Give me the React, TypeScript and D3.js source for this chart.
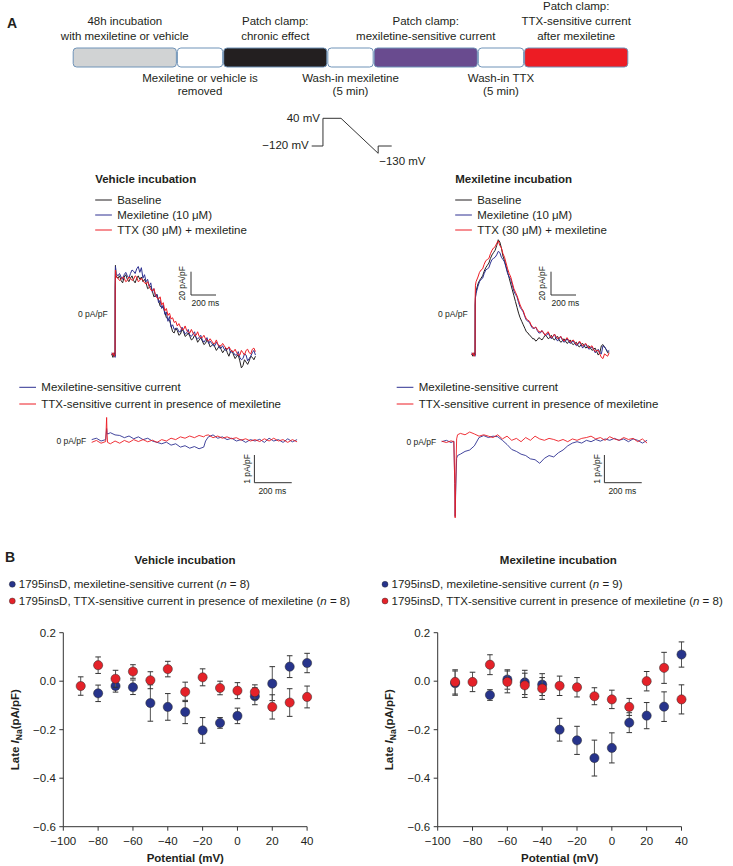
import React from 'react';
import * as d3 from 'd3';

const FONT = '"Liberation Sans", Arial, Helvetica, sans-serif';
const C_TEXT = '#231f20';
const C_BLACK = '#231f20';
const C_BLUE = '#2e3192';
const C_RED = '#ed1c24';
const C_DOT_BLUE = '#27348b';
const C_DOT_RED = '#e42229';

// ---------- Panel A: timeline ----------
const stageUnits = [2.25, 1, 2.25, 1, 2.25, 1, 2.25];
const stageFills = ['#d1d3d4', '#ffffff', '#231f20', '#ffffff', '#694b8f', '#ffffff', '#ed1c24'];
const stageTopLabels: (string[] | null)[] = [
  ['48h incubation', 'with mexiletine or vehicle'], null,
  ['Patch clamp:', 'chronic effect'], null,
  ['Patch clamp:', 'mexiletine-sensitive current'], null,
  ['Patch clamp:', 'TTX-sensitive current', 'after mexiletine'],
];
const stageBottomLabels: (string[] | null)[] = [
  null, ['Mexiletine or vehicle is', 'removed'], null,
  ['Wash-in mexiletine', '(5 min)'], null, ['Wash-in TTX', '(5 min)'], null,
];

// ---------- Voltage protocol ----------
const protocolT = [0, 100, 100, 260, 590, 590, 710];
const protocolV = [-120, -120, 40, 40, -130, -120, -120];

// ---------- Raw traces (pA/pF) ----------
// early samples (ms) around the step, then samples every 25 ms from 50 ms, plus the in-between samples (+12.5 ms)
const earlyTopT = [0, 10, 20, 27, 28, 30, 35];

const vehBaselineEarly = [-34, -37, -33, -36, 20, 42, 33];
const vehBaselineGrid = [31, 29, 32, 30, 31, 29, 31, 30, 28,
  27, 23, 20, 16, 12, 6, 2, -4, -10, -16,
  -14, -17, -15, -18, -19, -21, -20, -22, -23, -25, -24, -27, -28, -29, -30, -31, -33, -32, -35, -36, -40, -44, -41, -40, -37, -36];
const vehBaselineMid = [33, 27, 34, 28, 33, 27, 33, 32, 30, 22, 24, 15, 17, 7, 6, -3, -5, -15, -12, -18,
  -13, -19, -16, -22, -18, -24, -20, -26, -22, -28, -25, -31, -27, -33, -29, -36, -31, -38, -35, -46, -39, -43, -36, -39];

const vehMexEarly = [-33, -35, -34, -37, 25, 41, 35];
const vehMexGrid = [33, 32, 34, 33, 35, 37, 39, 36, 31,
  28, 24, 19, 15, 10, 5, 0, -6, -11, -13,
  -12, -15, -14, -16, -18, -17, -20, -20, -22, -22, -25, -25, -27, -26, -29, -30, -30, -33, -33, -35, -37, -38, -35, -38, -33, -35];
const vehMexMid = [35, 30, 36, 31, 38, 35, 41, 40, 34, 30, 27, 22, 17, 12, 8, 2, -2, -9, -12, -15,
  -11, -17, -13, -19, -15, -21, -18, -24, -20, -23, -27, -24, -29, -27, -31, -28, -32, -35, -32, -39, -34, -40, -36, -31];

const vehTTXEarly = [-35, -33, -36, -34, 22, 38, 32];
const vehTTXGrid = [31, 30, 31, 29, 31, 30, 32, 29, 29,
  26, 24, 20, 17, 13, 8, 3, -1, -4, -7,
  -10, -11, -13, -14, -16, -16, -18, -19, -20, -21, -23, -23, -25, -26, -27, -27, -30, -30, -32, -33, -35, -33, -31, -33, -30, -32];
const vehTTXMid = [29, 32, 28, 32, 29, 33, 28, 31, 27, 28, 21, 22, 14, 15, 10, 5, 1, -3, -6, -8,
  -13, -10, -15, -13, -18, -15, -20, -18, -22, -21, -25, -22, -27, -25, -29, -28, -32, -30, -35, -31, -35, -30, -34, -29];

const mexBaselineEarly = [-34, -36, -33, -35, 8, 15, 20];
const mexBaselineGrid = [26, 31, 37, 42, 48, 53, 59, 62,
  50, 41, 31, 21, 11, 1, -6, -12, -16, -19, -21,
  -22, -21, -20, -19, -20, -21, -20, -22, -23, -23, -24, -25, -25, -27, -26, -27, -28, -29, -30, -32, -33, -26, -30, -32];
const mexBaselineMid = [29, 33, 40, 44, 51, 55, 64, 57, 46, 36, 26, 16, 6, -3, -9, -15, -18, -21, -23, -20,
  -22, -18, -21, -18, -22, -19, -24, -21, -25, -22, -26, -24, -28, -25, -29, -27, -31, -29, -35, -27, -28, -33];

const mexMexEarly = [-33, -35, -34, -36, 8, 14, 18];
const mexMexGrid = [24, 30, 35, 39, 44, 48, 51, 53,
  47, 40, 32, 25, 17, 10, 4, -2, -6, -10, -12,
  -14, -16, -16, -18, -19, -19, -21, -21, -22, -23, -23, -24, -25, -26, -26, -27, -28, -29, -30, -32, -33, -27, -30, -31];
const mexMexMid = [28, 31, 38, 40, 47, 49, 54, 49, 45, 35, 30, 20, 15, 6, 2, -5, -7, -12, -11, -16,
  -14, -18, -16, -21, -17, -23, -19, -24, -21, -25, -23, -27, -24, -29, -26, -30, -28, -33, -30, -34, -28, -32];

const mexTTXEarly = [-35, -33, -36, -34, 15, 25, 28];
const mexTTXGrid = [32, 38, 43, 47, 52, 57, 61, 59,
  52, 44, 35, 27, 19, 12, 5, -1, -5, -9, -12,
  -13, -15, -16, -16, -18, -19, -19, -20, -21, -22, -22, -23, -24, -25, -25, -26, -27, -28, -30, -31, -34, -38, -35, -33];
const mexTTXMid = [36, 39, 46, 48, 55, 58, 63, 57, 49, 39, 32, 22, 16, 8, 3, -4, -6, -11, -11, -15,
  -14, -18, -15, -20, -17, -21, -19, -23, -20, -24, -22, -26, -23, -27, -25, -29, -27, -32, -31, -37, -34, -36];

// ---------- Difference traces (pA/pF) ----------
const vehDiffT = [0, 25, 50, 75, 80, 82, 85].concat(d3.range(100, 601, 25), [610], d3.range(625, 1101, 25));
const vehDiffMex = [0.05, 0.1, 0.0, 0.05, 0.45, 0.3, 0.25,
  0.3, 0.22, 0.2, 0.12, 0.18, 0.08, 0.15, 0.05, 0.1, 0.0, -0.05, -0.1, -0.04, -0.15, -0.1, -0.22, -0.17, -0.26, -0.2, -0.28, -0.22,
  0.0,
  0.15, 0.22, 0.1, 0.15, 0.05, 0.1, 0.0, 0.05, -0.05, 0.05, 0.0, 0.06, -0.05, 0.1, 0.0, 0.05, -0.05, 0.08, -0.03, 0.05];
const vehDiffTTX = [-0.05, 0.02, -0.08, -0.02, 0.85, 0.3, -0.05,
  -0.1, 0.0, -0.08, 0.02, -0.05, 0.05, -0.02, 0.05, -0.03, 0.03, -0.05, 0.05, 0.0, 0.1, 0.05, 0.15, 0.1, 0.18, 0.12, 0.2, 0.15,
  0.2,
  0.22, 0.12, 0.18, 0.1, 0.15, 0.08, 0.12, 0.03, 0.08, 0.0, 0.05, -0.02, 0.08, 0.0, 0.1, 0.0, 0.05, -0.05, 0.05, -0.03];

const mexDiffT = [0, 25, 50, 65, 70, 72, 75, 80, 85].concat(d3.range(100, 1101, 25));
const mexDiffMex = [0.0, 0.05, -0.03, 0.02, -1.5, -2.7, -1.8, -0.6, -0.5,
  -0.45, -0.35, -0.3, -0.15, 0.15, 0.22, 0.15, 0.2, 0.18, 0.05, -0.1, -0.28, -0.35, -0.45, -0.5, -0.62, -0.65, -0.78, -0.6, -0.5, -0.55,
  -0.4, -0.3, -0.15, -0.05, 0.0, -0.05, 0.05, 0.0, 0.08, 0.02, 0.1, 0.05, 0.12, 0.05, 0.1, 0.0, 0.1, 0.05, -0.05, 0.05];
const mexDiffTTX = [0.02, -0.03, 0.03, 0.0, -1.5, -2.75, -1.5, 0.1, 0.25,
  0.3, 0.25, 0.35, 0.28, 0.2, 0.25, 0.2, 0.15, 0.25, 0.1, 0.2, 0.05, 0.12, 0.0, 0.15, 0.05, 0.2, 0.1, 0.05, 0.12, 0.08,
  0.02, 0.08, 0.0, 0.1, 0.05, 0.12, 0.15, 0.2, 0.1, 0.15, 0.05, 0.18, 0.1, 0.05, 0.15, 0.08, 0.12, 0.0, 0.1, -0.05];

// ---------- Panel B: late INa ----------
const potentials = [-90, -80, -70, -60, -50, -40, -30, -20, -10, 0, 10, 20, 30, 40];
const xTicksB = [-100, -80, -60, -40, -20, 0, 20, 40];
const yTicksB = [0.2, 0.0, -0.2, -0.4, -0.6];

const vehMexSens = [null, -0.05, -0.02, -0.025, -0.09, -0.106, -0.127, -0.203, -0.172, -0.143, -0.062, -0.01, 0.06, 0.075];
const vehMexSensErr = [null, 0.034, 0.025, 0.03, 0.075, 0.055, 0.048, 0.053, 0.022, 0.032, 0.035, 0.07, 0.045, 0.04];
const vehTTXSens = [-0.02, 0.066, 0.01, 0.04, 0.004, 0.05, -0.044, 0.016, -0.028, -0.039, -0.045, -0.106, -0.088, -0.065];
const vehTTXSensErr = [0.038, 0.034, 0.035, 0.028, 0.035, 0.032, 0.04, 0.035, 0.028, 0.033, 0.03, 0.05, 0.057, 0.045];

const mexMexSens = [-0.008, null, -0.057, 0.007, -0.005, -0.014, -0.2, -0.244, -0.317, -0.275, -0.171, -0.142, -0.105, 0.11];
const mexMexSensErr = [0.05, null, 0.022, 0.04, 0.05, 0.045, 0.047, 0.058, 0.074, 0.062, 0.041, 0.054, 0.061, 0.052];
const mexTTXSens = [-0.003, -0.003, 0.068, -0.003, -0.017, -0.03, -0.019, -0.025, -0.062, -0.075, -0.106, 0.0, 0.055, -0.075];
const mexTTXSensErr = [0.05, 0.04, 0.041, 0.045, 0.05, 0.045, 0.04, 0.04, 0.035, 0.038, 0.035, 0.04, 0.064, 0.06];

const legendA = [
  { label: 'Baseline', color: C_BLACK },
  { label: 'Mexiletine (10 \u03bcM)', color: C_BLUE },
  { label: 'TTX (30 \u03bcM) + mexiletine', color: C_RED },
];
const legendDiff = [
  { label: 'Mexiletine-sensitive current', color: C_BLUE },
  { label: 'TTX-sensitive current in presence of mexiletine', color: C_RED },
];

// assemble a recorded trace from its typed samples: early points, 25-ms samples and the samples in between
function buildTrace(early: number[], grid: number[], mid: number[]) {
  const t: number[] = earlyTopT.slice();
  const v: number[] = early.slice();
  grid.forEach((g, i) => {
    t.push(50 + i * 25); v.push(g);
    if (i < mid.length && i < grid.length - 1) { t.push(62.5 + i * 25); v.push(mid[i]); }
  });
  return { t, v };
}

function tracePath(times: number[], vals: number[], xs: any, ys: any) {
  return d3.line<number>().x((_, i) => xs(times[i])).y((d) => ys(d))(vals) || '';
}

function Timeline() {
  const cum = [0];
  stageUnits.forEach((u) => cum.push(cum[cum.length - 1] + u));
  const x = d3.scaleLinear().domain([0, cum[cum.length - 1]]).range([72.7, 628.3]);
  const y0 = 48, h = 19;
  return (
    <g>
      {stageUnits.map((u, i) => {
        const xa = x(cum[i]), xb = x(cum[i + 1]);
        const cx = (xa + xb) / 2;
        const top = stageTopLabels[i];
        const bot = stageBottomLabels[i];
        return (
          <g key={i}>
            <rect x={xa + 0.5} y={y0} width={xb - xa - 1} height={h} rx={3.5} fill={stageFills[i]} stroke="#6f93b8" strokeWidth={1} />
            {top && top.map((t, j) => (
              <text key={'t' + j} x={cx} y={39.5 - (top.length - 1 - j) * 14.7} textAnchor="middle" fontSize={11.5} fill={C_TEXT}>{t}</text>
            ))}
            {bot && bot.map((t, j) => (
              <text key={'b' + j} x={cx} y={81.5 + j * 13.5} textAnchor="middle" fontSize={11.5} fill={C_TEXT}>{t}</text>
            ))}
          </g>
        );
      })}
    </g>
  );
}

function Protocol() {
  const xs = d3.scaleLinear().domain([0, 710]).range([311.7, 391.7]);
  const ys = d3.scaleLinear().domain([-130, -120, 40]).range([153.3, 146, 118.3]);
  const line = d3.line<number>().x((_, i) => xs(protocolT[i])).y((d) => ys(d))(protocolV) || '';
  return (
    <g fontSize={11.5} fill={C_TEXT}>
      <path d={line} fill="none" stroke="#333" strokeWidth={1} />
      <text x={xs(100) - 3} y={ys(40) + 4} textAnchor="end">40 mV</text>
      <text x={xs(0) - 3} y={ys(-120) + 3} textAnchor="end">{'\u2212120 mV'}</text>
      <text x={xs(590) + 1} y={ys(-130) + 12} textAnchor="start">{'\u2212130 mV'}</text>
    </g>
  );
}

function LegendLines({ items, x, y, gap }: any) {
  return (
    <g>
      {items.map((it: any, i: number) => (
        <g key={i}>
          <line x1={x} x2={x + 16.7} y1={y + i * gap} y2={y + i * gap} stroke={it.color} strokeWidth={1} />
          <text x={x + 22} y={y + i * gap + 4} fontSize={11.5} fill={C_TEXT}>{it.label}</text>
        </g>
      ))}
    </g>
  );
}

function TopTraces({ x0, title, traces }: any) {
  const xs = d3.scaleLinear().domain([0, 1000]).range([x0, x0 + 125]);
  const ys = d3.scaleLinear().domain([0, 20]).range([314.3, 291]);
  const cornerX = x0 + 79.3, cornerY = 295;
  return (
    <g>
      <text x={x0 - 16.5} y={183} fontSize={11.5} fontWeight="bold" fill={C_TEXT}>{title}</text>
      <LegendLines items={legendA} x={x0 - 16.5} y={200} gap={15} />
      <text x={x0 - 4} y={317} textAnchor="end" fontSize={8.5} fill={C_TEXT}>0 pA/pF</text>
      {traces.map((tr: any, i: number) => (
        <path key={i} d={tracePath(tr.t, tr.v, xs, ys)} fill="none" stroke={tr.color} strokeWidth={1} strokeLinejoin="round" />
      ))}
      <path d={`M${cornerX},${cornerY - (ys(0) - ys(20))}V${cornerY}H${cornerX + (xs(200) - xs(0))}`} fill="none" stroke="#333" strokeWidth={1} />
      <text transform={`translate(${cornerX - 6},${cornerY - (ys(0) - ys(20)) / 2}) rotate(-90)`} textAnchor="middle" fontSize={8.5} fill={C_TEXT}>20 pA/pF</text>
      <text x={cornerX + 0.5} y={cornerY + 11} fontSize={8.5} fill={C_TEXT}>200 ms</text>
    </g>
  );
}

function DiffTraces({ x0, zeroY, legendX, times, mex, ttx }: any) {
  const xs = d3.scaleLinear().domain([0, 1000]).range([x0, x0 + 186.7]);
  const ys = d3.scaleLinear().domain([0, 1]).range([zeroY, zeroY - 27.7]);
  const cornerX = x0 + 162.7, cornerY = 482.7;
  const barH = ys(0) - ys(1);
  return (
    <g>
      <LegendLines items={legendDiff} x={legendX} y={387.3} gap={16.7} />
      <text x={x0 - 5.5} y={zeroY + 3} textAnchor="end" fontSize={8.5} fill={C_TEXT}>0 pA/pF</text>
      <path d={tracePath(times, mex, xs, ys)} fill="none" stroke={C_BLUE} strokeWidth={0.9} />
      <path d={tracePath(times, ttx, xs, ys)} fill="none" stroke={C_RED} strokeWidth={0.9} />
      <path d={`M${cornerX},${cornerY - barH}V${cornerY}H${cornerX + (xs(200) - xs(0))}`} fill="none" stroke="#333" strokeWidth={1} />
      <text transform={`translate(${cornerX - 4.5},${cornerY - barH / 2}) rotate(-90)`} textAnchor="middle" fontSize={8.5} fill={C_TEXT}>1 pA/pF</text>
      <text x={cornerX + 4} y={cornerY + 11} fontSize={8.5} fill={C_TEXT}>200 ms</text>
    </g>
  );
}

function LegendText({ label, n }: any) {
  return (
    <>
      {label} (<tspan fontStyle="italic">n</tspan> = {n})
    </>
  );
}

function Scatter({ axisX, title, titleX, legendDotX, blue, blueErr, red, redErr, nBlue, nRed }: any) {
  const xs = d3.scaleLinear().domain([-100, 40]).range([axisX, axisX + 243.8]);
  const ys = d3.scaleLinear().domain([-0.6, 0.2]).range([826.7, 632.7]);
  const series = [
    { vals: blue, errs: blueErr, color: C_DOT_BLUE },
    { vals: red, errs: redErr, color: C_DOT_RED },
  ];
  return (
    <g>
      <text x={titleX} y={563.5} textAnchor="middle" fontSize={11.5} fontWeight="bold" fill={C_TEXT}>{title}</text>
      <circle cx={legendDotX} cy={584.3} r={3} fill={C_DOT_BLUE} stroke="#222" strokeWidth={0.4} />
      <text x={legendDotX + 6.5} y={588.3} fontSize={11.5} fill={C_TEXT}><LegendText label="1795insD, mexiletine-sensitive current" n={nBlue} /></text>
      <circle cx={legendDotX} cy={601} r={3} fill={C_DOT_RED} stroke="#222" strokeWidth={0.4} />
      <text x={legendDotX + 6.5} y={605} fontSize={11.5} fill={C_TEXT}><LegendText label="1795insD, TTX-sensitive current in presence of mexiletine" n={nRed} /></text>

      <line x1={axisX} x2={axisX} y1={ys(0.2)} y2={ys(-0.6)} stroke="#333" strokeWidth={1} />
      <line x1={axisX} x2={xs(40)} y1={ys(-0.6)} y2={ys(-0.6)} stroke="#333" strokeWidth={1} />
      {yTicksB.map((t) => (
        <g key={'y' + t}>
          <line x1={axisX - 4} x2={axisX} y1={ys(t)} y2={ys(t)} stroke="#333" strokeWidth={1} />
          <text x={axisX - 7.5} y={ys(t) + 4} textAnchor="end" fontSize={11.5} fill={C_TEXT}>{t === 0 ? '0.0' : d3.format('.1f')(t).replace('-', '\u2212')}</text>
        </g>
      ))}
      {xTicksB.map((t) => (
        <g key={'x' + t}>
          <line x1={xs(t)} x2={xs(t)} y1={ys(-0.6)} y2={ys(-0.6) + 4} stroke="#333" strokeWidth={1} />
          <text x={xs(t)} y={845} textAnchor="middle" fontSize={11.5} fill={C_TEXT}>{String(t).replace('-', '\u2212')}</text>
        </g>
      ))}
      <text x={axisX + 122} y={862} textAnchor="middle" fontSize={11.5} fontWeight="bold" fill={C_TEXT}>Potential (mV)</text>
      <text transform={`translate(${axisX - 44.5},${ys(-0.2)}) rotate(-90)`} textAnchor="middle" fontSize={11.5} fontWeight="bold" fill={C_TEXT}>
        Late <tspan fontStyle="italic">I</tspan><tspan fontSize={8.5} dy={3}>Na</tspan><tspan dy={-3}>(pA/pF)</tspan>
      </text>

      {series.map((s, si) => (
        <g key={si}>
          {potentials.map((p, i) => {
            const v = s.vals[i];
            if (v === null) return null;
            const e = s.errs[i];
            return (
              <g key={i}>
                <line x1={xs(p)} x2={xs(p)} y1={ys(v + e)} y2={ys(v - e)} stroke="#555" strokeWidth={1} />
                <line x1={xs(p) - 2.8} x2={xs(p) + 2.8} y1={ys(v + e)} y2={ys(v + e)} stroke="#333" strokeWidth={1} />
                <line x1={xs(p) - 2.8} x2={xs(p) + 2.8} y1={ys(v - e)} y2={ys(v - e)} stroke="#333" strokeWidth={1} />
              </g>
            );
          })}
          {potentials.map((p, i) => {
            const v = s.vals[i];
            if (v === null) return null;
            return <circle key={'c' + i} cx={xs(p)} cy={ys(v)} r={4.6} fill={s.color} stroke="#2a2a2a" strokeWidth={0.5} />;
          })}
        </g>
      ))}
    </g>
  );
}

export default function App() {
  const vehTraces = [
    { ...buildTrace(vehBaselineEarly, vehBaselineGrid, vehBaselineMid), color: C_BLACK },
    { ...buildTrace(vehMexEarly, vehMexGrid, vehMexMid), color: C_BLUE },
    { ...buildTrace(vehTTXEarly, vehTTXGrid, vehTTXMid), color: C_RED },
  ];
  const mexTraces = [
    { ...buildTrace(mexBaselineEarly, mexBaselineGrid, mexBaselineMid), color: C_BLACK },
    { ...buildTrace(mexMexEarly, mexMexGrid, mexMexMid), color: C_BLUE },
    { ...buildTrace(mexTTXEarly, mexTTXGrid, mexTTXMid), color: C_RED },
  ];
  return (
    <svg width={733} height={866} viewBox="0 0 733 866" style={{ position: 'absolute', left: 0, top: 0, background: '#fff' }} fontFamily={FONT}>
      <rect width={733} height={866} fill="#fff" />
      <text x={7} y={27.5} fontSize={14} fontWeight="bold" fill={C_TEXT}>A</text>
      <Timeline />
      <Protocol />
      <TopTraces x0={111.7} title="Vehicle incubation" traces={vehTraces} />
      <TopTraces x0={471.7} title="Mexiletine incubation" traces={mexTraces} />
      <DiffTraces x0={91.7} zeroY={441} legendX={19.3} times={vehDiffT} mex={vehDiffMex} ttx={vehDiffTTX} />
      <DiffTraces x0={441.7} zeroY={441.7} legendX={396.7} times={mexDiffT} mex={mexDiffMex} ttx={mexDiffTTX} />

      <text x={5} y={562} fontSize={14} fontWeight="bold" fill={C_TEXT}>B</text>
      <Scatter axisX={63.3} title="Vehicle incubation" titleX={185} legendDotX={12.3}
        blue={vehMexSens} blueErr={vehMexSensErr} red={vehTTXSens} redErr={vehTTXSensErr} nBlue={8} nRed={8} />
      <Scatter axisX={437.7} title="Mexiletine incubation" titleX={558.3} legendDotX={385}
        blue={mexMexSens} blueErr={mexMexSensErr} red={mexTTXSens} redErr={mexTTXSensErr} nBlue={9} nRed={8} />
    </svg>
  );
}
